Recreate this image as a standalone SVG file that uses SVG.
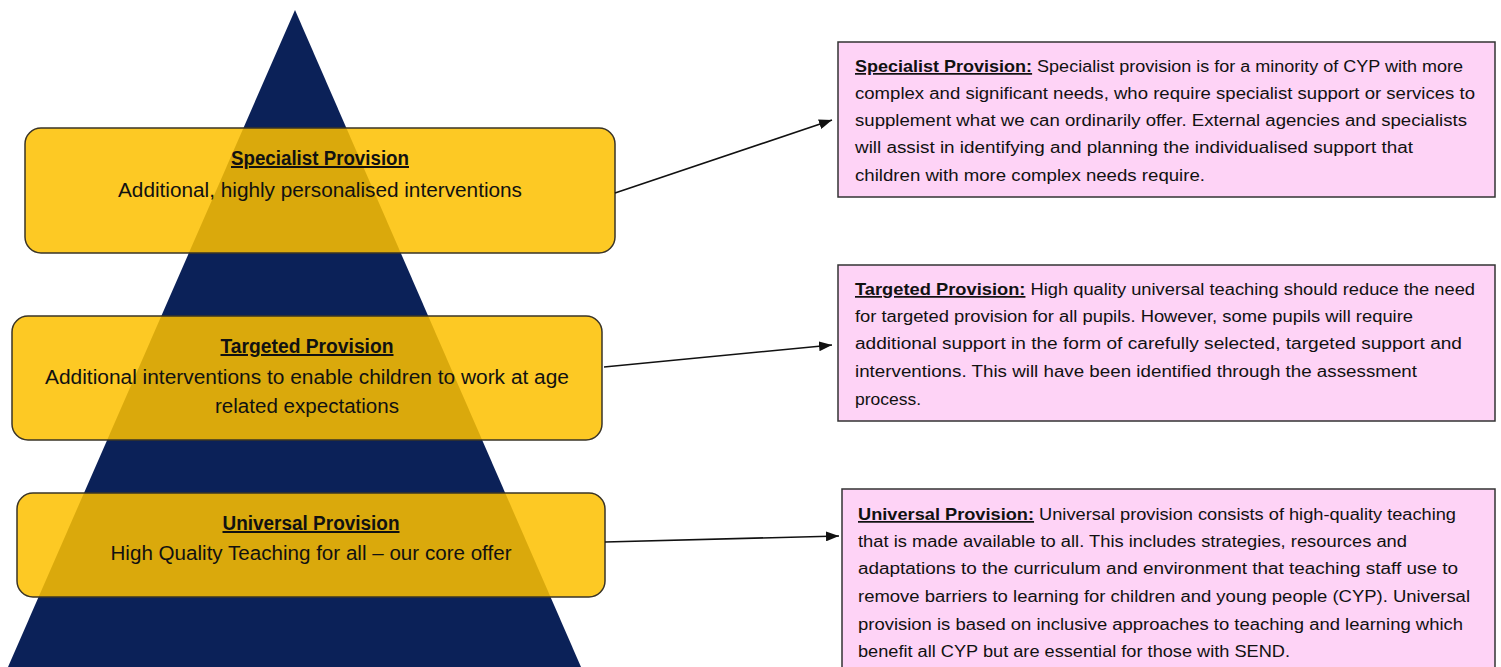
<svg xmlns="http://www.w3.org/2000/svg" width="1501" height="667" viewBox="0 0 1501 667">
<style>
.tier{fill:#fdc000;fill-opacity:0.86;stroke:#3a3426;stroke-width:1.5}
.tt{font-family:"Liberation Sans",Arial,sans-serif;font-size:20px;fill:#111;text-anchor:middle}
.hd{font-weight:bold;text-decoration:underline}
.desc{fill:#fed3f6;stroke:#333;stroke-width:1.5}
.dt{font-family:"Liberation Sans",Arial,sans-serif;font-size:17.3px;fill:#111}
.conn{stroke:#111;stroke-width:1.6;fill:none;marker-end:url(#ah)}
</style>
<defs>
<marker id="ah" viewBox="0 0 13 10" refX="13" refY="5" markerWidth="13" markerHeight="10" markerUnits="userSpaceOnUse" orient="auto">
<path d="M0,0 L13,5 L0,10 Z" fill="#111"/>
</marker>
</defs>
<rect width="1501" height="667" fill="#ffffff"/>
<g id="pyramid">
<polygon points="295,10 8,667 581,667" fill="#0b2158"/>
</g>
<g id="specialist-tier">
<rect class="tier" x="25" y="128" width="590" height="125" rx="16"/>
<text class="tt" x="320" y="165" textLength="178" lengthAdjust="spacingAndGlyphs"><tspan class="hd">Specialist Provision</tspan></text>
<text class="tt" x="320" y="197" textLength="404" lengthAdjust="spacingAndGlyphs">Additional, highly personalised interventions</text>
</g>
<g id="targeted-tier">
<rect class="tier" x="12" y="316" width="590" height="124" rx="16"/>
<text class="tt" x="307" y="353" textLength="173" lengthAdjust="spacingAndGlyphs"><tspan class="hd">Targeted Provision</tspan></text>
<text class="tt" x="307" y="384" textLength="524" lengthAdjust="spacingAndGlyphs">Additional interventions to enable children to work at age</text>
<text class="tt" x="307" y="413" textLength="184" lengthAdjust="spacingAndGlyphs">related expectations</text>
</g>
<g id="universal-tier">
<rect class="tier" x="17" y="493" width="588" height="104" rx="16"/>
<text class="tt" x="311" y="530" textLength="177" lengthAdjust="spacingAndGlyphs"><tspan class="hd">Universal Provision</tspan></text>
<text class="tt" x="311" y="560" textLength="401" lengthAdjust="spacingAndGlyphs">High Quality Teaching for all – our core offer</text>
</g>
<g id="specialist-desc">
<rect class="desc" x="838" y="42" width="657" height="155"/>
<text class="dt" x="855" y="72" textLength="608" lengthAdjust="spacingAndGlyphs"><tspan class="hd">Specialist Provision:</tspan> Specialist provision is for a minority of CYP with more</text>
<text class="dt" x="855" y="99" textLength="620" lengthAdjust="spacingAndGlyphs">complex and significant needs, who require specialist support or services to</text>
<text class="dt" x="855" y="126" textLength="612" lengthAdjust="spacingAndGlyphs">supplement what we can ordinarily offer. External agencies and specialists</text>
<text class="dt" x="855" y="153" textLength="558" lengthAdjust="spacingAndGlyphs">will assist in identifying and planning the individualised support that</text>
<text class="dt" x="855" y="181" textLength="350" lengthAdjust="spacingAndGlyphs">children with more complex needs require.</text>
</g>
<g id="targeted-desc">
<rect class="desc" x="838" y="265" width="657" height="156"/>
<text class="dt" x="855" y="295" textLength="620" lengthAdjust="spacingAndGlyphs"><tspan class="hd">Targeted Provision:</tspan> High quality universal teaching should reduce the need</text>
<text class="dt" x="855" y="322" textLength="558" lengthAdjust="spacingAndGlyphs">for targeted provision for all pupils. However, some pupils will require</text>
<text class="dt" x="855" y="349" textLength="607" lengthAdjust="spacingAndGlyphs">additional support in the form of carefully selected, targeted support and</text>
<text class="dt" x="855" y="377" textLength="562" lengthAdjust="spacingAndGlyphs">interventions. This will have been identified through the assessment</text>
<text class="dt" x="855" y="405" textLength="66" lengthAdjust="spacingAndGlyphs">process.</text>
</g>
<g id="universal-desc">
<rect class="desc" x="842" y="489" width="653" height="190"/>
<text class="dt" x="858" y="520" textLength="598" lengthAdjust="spacingAndGlyphs"><tspan class="hd">Universal Provision:</tspan> Universal provision consists of high-quality teaching</text>
<text class="dt" x="858" y="547" textLength="549" lengthAdjust="spacingAndGlyphs">that is made available to all. This includes strategies, resources and</text>
<text class="dt" x="858" y="574" textLength="600" lengthAdjust="spacingAndGlyphs">adaptations to the curriculum and environment that teaching staff use to</text>
<text class="dt" x="858" y="602" textLength="612" lengthAdjust="spacingAndGlyphs">remove barriers to learning for children and young people (CYP). Universal</text>
<text class="dt" x="858" y="630" textLength="605" lengthAdjust="spacingAndGlyphs">provision is based on inclusive approaches to teaching and learning which</text>
<text class="dt" x="858" y="657" textLength="432" lengthAdjust="spacingAndGlyphs">benefit all CYP but are essential for those with SEND.</text>
</g>
<g id="connectors">
<line class="conn" x1="615" y1="193" x2="832" y2="120"/>
<line class="conn" x1="604" y1="367" x2="832" y2="345"/>
<line class="conn" x1="605" y1="542" x2="839" y2="536"/>
</g>
</svg>
